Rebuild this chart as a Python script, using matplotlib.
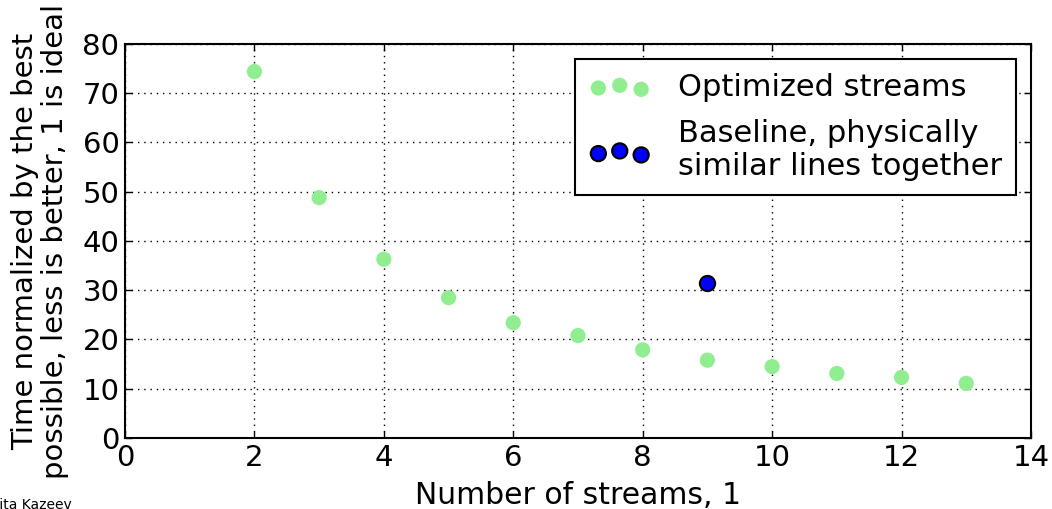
import matplotlib
matplotlib.use("Agg")
import matplotlib.pyplot as plt

# data
streams = [2, 3, 4, 5, 6, 7, 8, 9, 10, 11, 12, 13]
optimized = [74.4, 48.8, 36.3, 28.5, 23.4, 20.8, 17.9, 15.8, 14.5, 13.1, 12.3, 11.1]
baseline_x = [9]
baseline_y = [31.4]

plt.rcParams["font.family"] = "DejaVu Sans"
plt.rcParams["xtick.direction"] = "in"
plt.rcParams["ytick.direction"] = "in"
plt.rcParams["xtick.top"] = True
plt.rcParams["ytick.right"] = True

fig = plt.figure(figsize=(10.52, 5.09), dpi=100)
ax = fig.add_axes([0.1188, 0.1395, 0.8612, 0.7741])

ax.scatter(streams, optimized, s=120, color="#90ee90", edgecolors="none",
           label="Optimized streams", zorder=3)
ax.scatter(baseline_x, baseline_y, s=120, color="#0000ff", edgecolors="black",
           linewidths=1.5, label="Baseline, physically\nsimilar lines together", zorder=3)

ax.set_xlim(0, 14)
ax.set_ylim(0, 80)
ax.set_xticks(range(0, 15, 2))
ax.set_yticks(range(0, 81, 10))
ax.tick_params(labelsize=21, length=5, width=1, pad=4)
ax.grid(True, linestyle=(0, (1, 3.5)), color="black", linewidth=1)
for sp in ax.spines.values():
    sp.set_linewidth(1.5)

ax.set_xlabel("Number of streams, 1", fontsize=21.5, labelpad=6.5)
ax.set_ylabel("Time normalized by the best\npossible, less is better, 1 is ideal",
              fontsize=21, labelpad=10, linespacing=1.05)

leg = ax.legend(loc="upper right", fontsize=22, scatterpoints=3, fancybox=False,
                framealpha=1, edgecolor="black", borderaxespad=0.5,
                handletextpad=0.9, labelspacing=0.55, handlelength=2.0,
                borderpad=0.45)
leg.get_frame().set_linewidth(1.5)

# author credit, partly outside the frame as in the reference
fig.text(-0.022, -0.006, "Nikita Kazeev", fontsize=10, ha="left", va="bottom")

fig.savefig("out.png", dpi=100)
